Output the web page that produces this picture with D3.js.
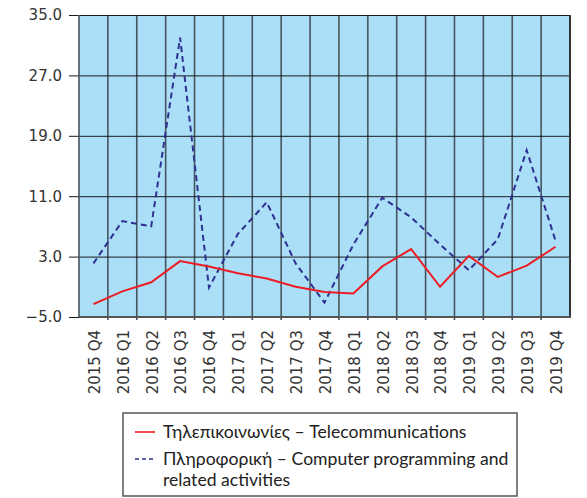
<!DOCTYPE html>
<html>
<head>
<meta charset="utf-8">
<script src="https://cdn.jsdelivr.net/npm/d3@7"></script>
<style>
  html, body { margin: 0; padding: 0; background: #fff; }
  svg { display: block; }
</style>
</head>
<body>
<svg id="chart" width="587" height="498"></svg>
<script>
// Quarterly categories
const quarters = [
  "2015 Q4", "2016 Q1", "2016 Q2", "2016 Q3", "2016 Q4",
  "2017 Q1", "2017 Q2", "2017 Q3", "2017 Q4",
  "2018 Q1", "2018 Q2", "2018 Q3", "2018 Q4",
  "2019 Q1", "2019 Q2", "2019 Q3", "2019 Q4"
];

// Telecommunications
const telecom = [-3.3, -1.6, -0.4, 2.4, 1.7, 0.8, 0.1, -1.0, -1.7,
                 -1.9, 1.7, 4.0, -1.0, 3.1, 0.3, 1.8, 4.3];

// Computer programming and related activities
const computing = [2.1, 7.7, 7.0, 32.0, -1.1, 6.0, 10.2, 2.1, -3.1,
                   4.6, 10.8, 8.2, 4.6, 1.2, 5.3, 17.1, 5.1];

// Value axis ticks
const yTicks = [-5, 3, 11, 19, 27, 35];

// Legend entries
const legendLabels = [
  ["Τηλεπικοινωνίες – Telecommunications"],
  ["Πληροφορική – Computer programming and", "related activities"]
];

const svg = d3.select("#chart");
const plotL = 79, plotR = 570, plotT = 15, plotB = 317;

const x = d3.scaleBand().domain(quarters).range([plotL, plotR]).padding(0);
const y = d3.scaleLinear().domain([-5, 35]).range([plotB, plotT]);
const cx = d => x(d) + x.bandwidth() / 2;

// plot background
svg.append("rect")
  .attr("x", plotL).attr("y", plotT)
  .attr("width", plotR - plotL).attr("height", plotB - plotT)
  .attr("fill", "#abdff8");

// vertical separators between quarters
svg.append("g")
  .selectAll("line")
  .data(quarters.slice(1))
  .join("line")
  .attr("x1", d => x(d)).attr("x2", d => x(d))
  .attr("y1", plotT).attr("y2", plotB + 3)
  .attr("stroke", "#46555d")
  .attr("stroke-width", 1.6);

// y axis with horizontal grid
const yAxis = d3.axisLeft(y)
  .tickValues(yTicks)
  .tickFormat(d3.format(".1f"))
  .tickSize(-(plotR - plotL))
  .tickPadding(17);

const gy = svg.append("g")
  .attr("transform", `translate(${plotL},0)`)
  .call(yAxis);
gy.select(".domain").remove();
gy.selectAll(".tick line")
  .attr("stroke", "#1a1a1a")
  .attr("stroke-width", 1)
  .attr("x1", -10);
gy.selectAll(".tick text")
  .attr("font-family", "DejaVu Sans, Verdana, sans-serif")
  .attr("font-size", 15)
  .attr("fill", "#333");

// frame edges
svg.append("line")
  .attr("x1", plotL).attr("x2", plotL).attr("y1", plotT).attr("y2", plotB)
  .attr("stroke", "#46555d").attr("stroke-width", 1.6);
svg.append("line")
  .attr("x1", plotR).attr("x2", plotR).attr("y1", plotT).attr("y2", plotB)
  .attr("stroke", "#333").attr("stroke-width", 2);
svg.append("line")
  .attr("x1", plotL).attr("x2", plotR + 1).attr("y1", plotB).attr("y2", plotB)
  .attr("stroke", "#555").attr("stroke-width", 2);

// x axis labels (rotated)
const xAxis = d3.axisBottom(x).tickSize(0).tickPadding(0);
const gx = svg.append("g")
  .attr("transform", `translate(0,${plotB})`)
  .call(xAxis);
gx.select(".domain").remove();
gx.selectAll(".tick text")
  .attr("font-family", "DejaVu Sans, Verdana, sans-serif")
  .attr("font-size", 15)
  .attr("fill", "#333")
  .attr("text-anchor", "end")
  .attr("transform", "translate(1,13) rotate(-90)")
  .attr("x", 0)
  .attr("y", 0)
  .attr("dy", "0.36em");

// series lines
const line = d3.line()
  .x((d, i) => cx(quarters[i]))
  .y(d => y(d));

svg.append("path")
  .datum(computing)
  .attr("fill", "none")
  .attr("stroke", "#2e3192")
  .attr("stroke-width", 2)
  .attr("stroke-dasharray", "6,4")
  .attr("d", line);

svg.append("path")
  .datum(telecom)
  .attr("fill", "none")
  .attr("stroke", "#ed1c24")
  .attr("stroke-width", 2)
  .attr("d", line);

// legend
const lg = svg.append("g");
lg.append("rect")
  .attr("x", 123).attr("y", 413)
  .attr("width", 394).attr("height", 83)
  .attr("fill", "#fff")
  .attr("stroke", "#555")
  .attr("stroke-width", 1.5);

const legendStyles = [
  { color: "#ed1c24", dash: null, y: 432 },
  { color: "#2e3192", dash: "4,3", y: 459 }
];

legendLabels.forEach((rows, i) => {
  const s = legendStyles[i];
  lg.append("line")
    .attr("x1", 135).attr("x2", 155)
    .attr("y1", s.y).attr("y2", s.y)
    .attr("stroke", s.color)
    .attr("stroke-width", 1.6)
    .attr("stroke-dasharray", s.dash);
  const t = lg.append("text")
    .attr("x", 163).attr("y", s.y)
    .attr("font-family", "Lato, 'Open Sans', sans-serif")
    .attr("font-size", 17.6)
    .attr("fill", "#222");
  rows.forEach((r, j) => {
    t.append("tspan")
      .attr("x", 163)
      .attr("dy", j === 0 ? "0.35em" : "1.2em")
      .text(r);
  });
});
</script>
</body>
</html>
